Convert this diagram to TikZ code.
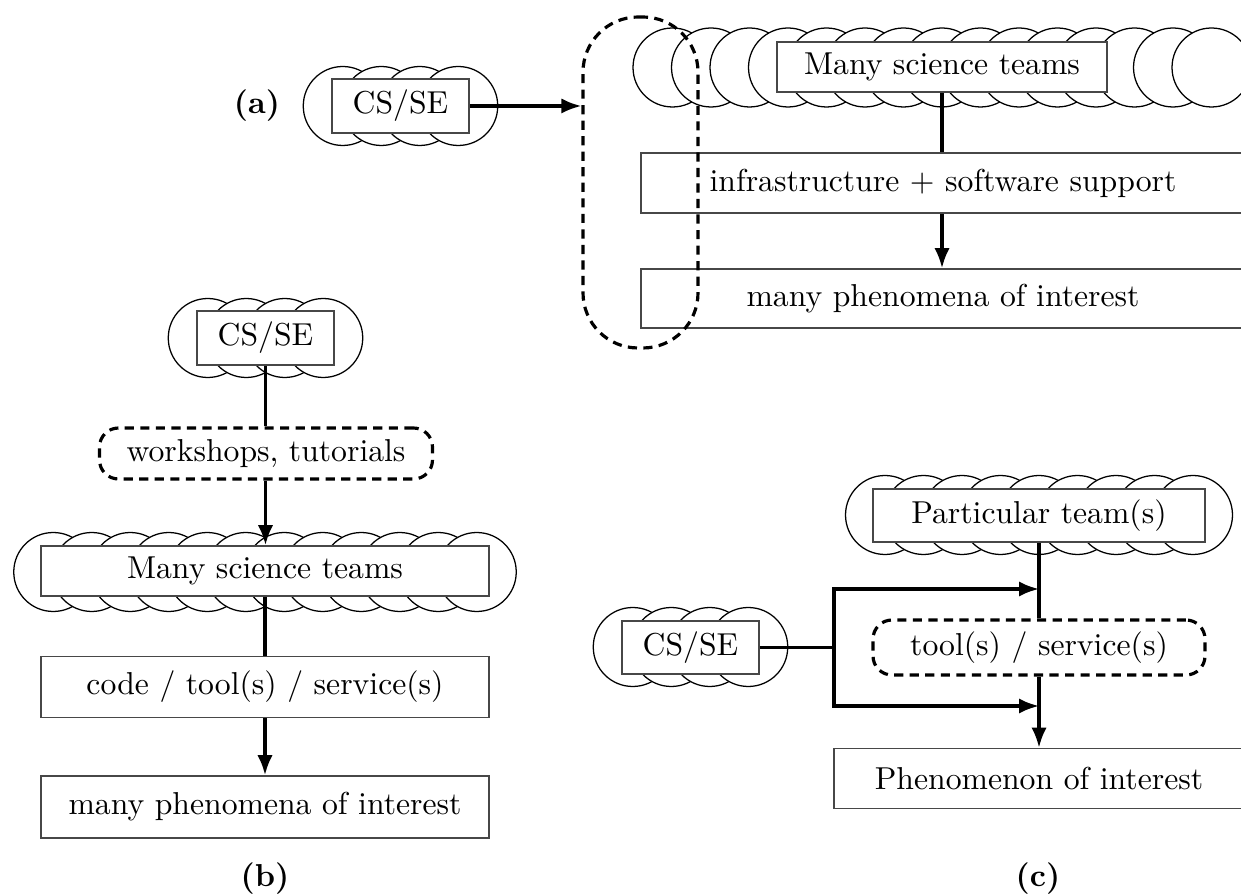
\documentclass[tikz,border=0pt]{standalone}
\usetikzlibrary{arrows.meta,calc}
\def\pu{0.3155pt}
\newcommand\cloudrow[3]{%
  \foreach \k in {1,...,#3}{\draw[cl] ({#1+(\k-(#3+1)/2)*38.5},#2) circle[radius=12.46pt];}}
\tikzset{
  cl/.style={draw, line width=0.4pt, fill=white},
  rbox/.style={draw=black!72, line width=0.5pt, fill=white, inner sep=0pt, align=center},
  dbox/.style={draw, line width=1pt, dash pattern=on 2.9pt off 2pt, rounded corners=6pt, inner sep=0pt},
  conn/.style={line width=1pt, line join=miter},
  arr/.style={conn, -{Latex[length=6.3pt,width=4.8pt]}},
  lab/.style={font=\bfseries, inner sep=0pt}
}
\begin{document}
\begin{tikzpicture}[x=0.3155pt, y=-0.3155pt]
\clip (0,0) rectangle (1241,895);
% ---------- (a) ----------
\node[lab] (laba) at (257,106) {(a)};
\cloudrow{400.5}{106}{4}
\node[rbox, minimum width=137*\pu, minimum height=54*\pu] (csa) at (400.5,106) {CS/SE};
\cloudrow{942}{67.5}{15}
\node[rbox, minimum width=330*\pu, minimum height=50*\pu] (teamsa) at (942,67) {Many science teams};
\node[rbox, minimum width=604*\pu, minimum height=60*\pu] (infra) at (943,183) {infrastructure $+$ software support};
\node[rbox, minimum width=604*\pu, minimum height=59*\pu] (phena) at (943,298.5) {many phenomena of interest};
\draw[conn] (teamsa.south) -- (teamsa.south |- infra.north);
\draw[arr] (infra.south -| teamsa.south) -- (teamsa.south |- phena.north);
\node[dbox, rounded corners=17.4pt, minimum width=115*\pu, minimum height=331*\pu] (dasha) at (640.5,182.5) {};
\draw[arr] (csa.east) -- (csa.east -| dasha.west);
% ---------- (b) ----------
\cloudrow{265.5}{338}{4}
\node[rbox, minimum width=137*\pu, minimum height=54*\pu] (csb) at (265.5,338) {CS/SE};
\node[dbox, minimum width=333*\pu, minimum height=51*\pu] (work) at (266,453.5) {workshops, tutorials};
\cloudrow{265}{572}{12}
\node[rbox, minimum width=448*\pu, minimum height=50*\pu] (teamsb) at (265,571) {Many science teams};
\node[rbox, minimum width=448*\pu, minimum height=61*\pu] (code) at (265,687) {code / tool(s) / service(s)};
\node[rbox, minimum width=448*\pu, minimum height=62*\pu] (phenb) at (265,807) {many phenomena of interest};
\draw[conn] (csb.south) -- (csb.south |- work.north);
\draw[arr] (csb.south |- work.south) -- (csb.south |- teamsb.north);
\draw[conn] (teamsb.south) -- (code.north);
\draw[arr] (code.south) -- (phenb.north);
\node[lab] (labb) at (265,879) {(b)};
% ---------- (c) ----------
\cloudrow{1039}{515}{9}
\node[rbox, minimum width=332*\pu, minimum height=53*\pu] (part) at (1039,515.5) {Particular team(s)};
\cloudrow{690.5}{647}{4}
\node[rbox, minimum width=137*\pu, minimum height=53*\pu] (csc) at (690.5,647.5) {CS/SE};
\node[dbox, minimum width=332*\pu, minimum height=55*\pu] (tool) at (1039,647.5) {tool(s) / service(s)};
\node[rbox, minimum width=410*\pu, minimum height=60*\pu] (phenc) at (1039,778.5) {Phenomenon of interest};
\coordinate (j) at (834,647.5);
\coordinate (jt) at (1039,589);
\coordinate (jb) at (1039,706);
\draw[conn] (part.south) -- (tool.north);
\draw[arr] (tool.south) -- (phenc.north);
\draw[conn] (csc.east) -- (j);
\draw[arr] (j) |- (jt);
\draw[arr] (j) |- (jb);
\node[lab] (labc) at (1038,879) {(c)};
\end{tikzpicture}
\end{document}
